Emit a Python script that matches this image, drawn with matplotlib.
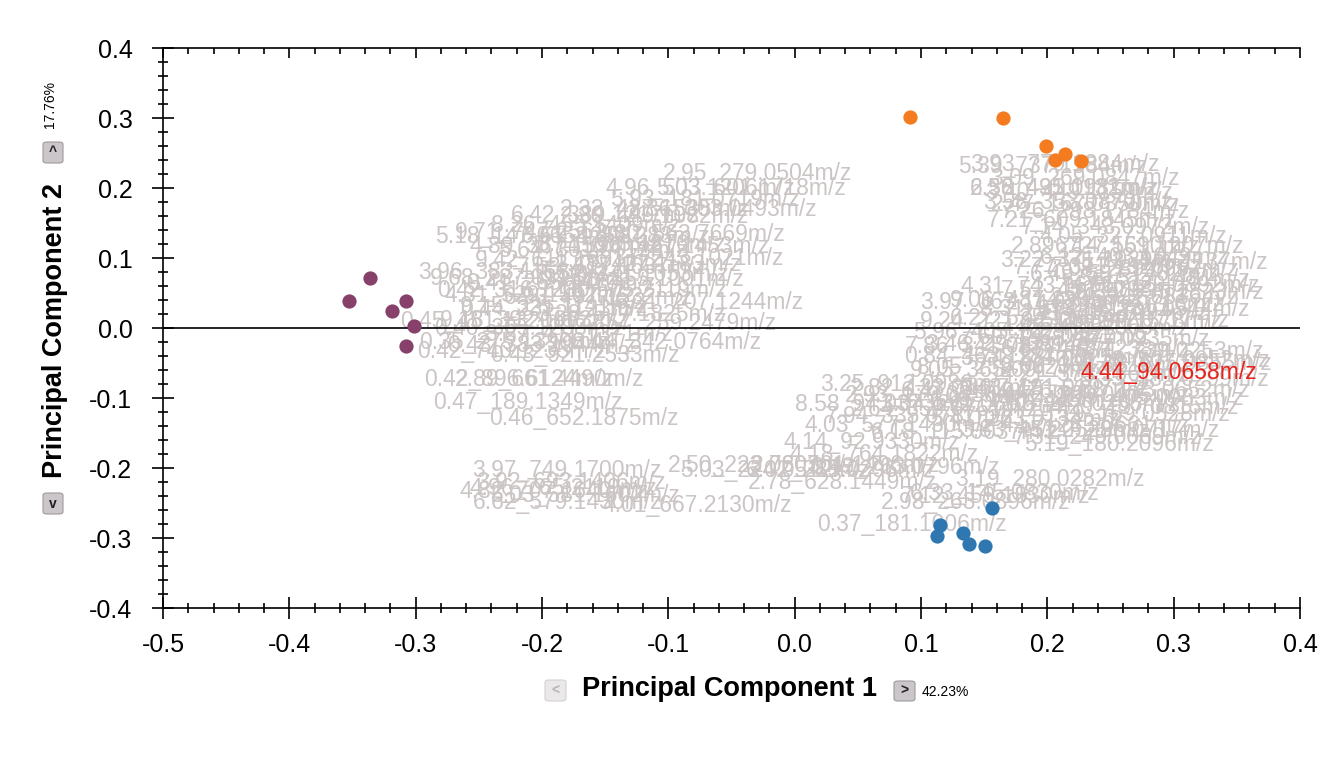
import matplotlib
matplotlib.use('Agg')
import matplotlib.pyplot as plt
from matplotlib.ticker import MultipleLocator
from matplotlib.patches import FancyBboxPatch

plt.rcParams['font.family'] = ['Liberation Sans', 'DejaVu Sans']

# scores (PC1, PC2) for the three sample groups
purple_pc1 = [-0.353, -0.336, -0.319, -0.308, -0.301, -0.308]
purple_pc2 = [0.039, 0.071, 0.024, 0.039, 0.003, -0.026]
orange_pc1 = [0.091, 0.165, 0.199, 0.206, 0.214, 0.227]
orange_pc2 = [0.301, 0.300, 0.260, 0.240, 0.249, 0.239]
blue_pc1 = [0.156, 0.115, 0.113, 0.133, 0.138, 0.151]
blue_pc2 = [-0.257, -0.281, -0.297, -0.293, -0.309, -0.311]

# loadings labels, upper left cluster
ul_names = ['2.95_279.0504m/z', '4.96_503.1206m/z', '5.03_601.1718m/z', '5.93_181.0719m/z',
            '2.32_487.1535m/z', '2.36_303.0493m/z', '2.30_449.1082m/z', '5.18_147.0658m/z',
            '9.71_747.2562m/z', '6.61_425.1283m/z', '3.80_563.7669m/z', '4.89_367.1598m/z',
            '5.77_421.1453m/z', '9.42_611.1601m/z', '6.37_243.1021m/z', '3.96_383.1153m/z',
            '9.68_287.0913m/z', '5.52_341.1053m/z', '0.42_316.1230m/z', '4.31_529.1562m/z',
            '7.18_575.2119m/z', '6.21_207.1244m/z', '9.15_325.1141m/z', '0.45_451.1320m/z',
            '9.18_392.1063m/z', '2.57_259.2479m/z', '8.44_342.0764m/z', '0.35_275.1390m/z',
            '0.42_740.1235m/z', '0.43_921.2533m/z', '0.42_896.6124m/z', '2.89_661.4490m/z',
            '0.47_189.1349m/z', '0.46_652.1875m/z', '6.42_389.1217m/z', '8.26_455.1409m/z',
            '3.71_613.1876m/z', '5.64_301.0712m/z', '2.48_427.1183m/z', '7.53_517.1637m/z',
            '0.41_265.1470m/z', '4.58_355.1001m/z', '6.93_497.1532m/z', '0.44_231.1123m/z',
            '3.28_577.1825m/z', '0.40_305.1288m/z', '8.87_411.1371m/z', '0.43_383.1944m/z']
ul_pc1 = [-0.104, -0.150, -0.110, -0.146, -0.186, -0.132, -0.186, -0.285,
          -0.269, -0.217, -0.158, -0.257, -0.170, -0.253, -0.158, -0.298,
          -0.289, -0.202, -0.283, -0.277, -0.202, -0.142, -0.265, -0.312,
          -0.281, -0.164, -0.176, -0.297, -0.299, -0.241, -0.293, -0.269,
          -0.286, -0.242, -0.225, -0.240, -0.205, -0.235, -0.190, -0.220,
          -0.260, -0.190, -0.230, -0.265, -0.205, -0.285, -0.245, -0.275]
ul_pc2 = [0.221, 0.200, 0.200, 0.183, 0.169, 0.169, 0.160, 0.130,
          0.137, 0.131, 0.133, 0.116, 0.116, 0.097, 0.100, 0.079,
          0.071, 0.076, 0.054, 0.047, 0.054, 0.037, 0.031, 0.009,
          0.011, 0.006, -0.020, -0.020, -0.034, -0.039, -0.074, -0.074,
          -0.106, -0.129, 0.161, 0.147, 0.119, 0.111, 0.090, 0.086,
          0.064, 0.069, 0.043, 0.026, 0.019, 0.000, -0.010, -0.025]

# lower left cluster
ll_names = ['3.97_749.1700m/z', '3.92_693.1406m/z', '4.96_765.2119m/z', '4.82_707.1640m/z',
            '6.62_579.1430m/z', '5.03_581.1602m/z', '4.01_667.2130m/z', '2.50_223.0607m/z',
            '5.03_224.0512m/z']
ll_pc1 = [-0.255, -0.252, -0.257, -0.265, -0.255, -0.241, -0.152, -0.100, -0.091]
ll_pc2 = [-0.203, -0.220, -0.229, -0.234, -0.249, -0.239, -0.253, -0.196, -0.203]

# lower right cluster
lr_names = ['4.14_92.9330m/z', '4.18_764.1822m/z', '5.19_180.2096m/z', '3.49_263.0796m/z',
            '2.73_301.1496m/z', '6.02_285.0296m/z', '2.78_628.1449m/z', '3.19_280.0282m/z',
            '6.33_145.0830m/z', '7.12_459.1830m/z', '2.98_263.0896m/z', '0.37_181.1006m/z',
            '3.25_912.0986m/z', '8.58_94.0373m/z', '5.19_169.0528m/z', '4.03_577.1430m/z',
            '5.22_296.0717m/z', '7.31_249.0069m/z', '7.94_335.0787m/z', '2.82_133.0143m/z',
            '6.47_217.0476m/z', '3.61_191.0197m/z', '4.72_325.0405m/z', '5.88_173.0652m/z',
            '2.19_405.0983m/z', '6.95_147.0445m/z', '3.04_211.0602m/z', '7.66_247.0255m/z',
            '4.29_197.0815m/z', '2.64_359.0761m/z', '5.41_263.0134m/z', '3.83_451.0528m/z',
            '6.18_115.0037m/z', '4.57_283.0661m/z', '2.93_179.0350m/z']
lr_pc1 = [-0.009, -0.004, 0.182, 0.012, -0.035, -0.039, -0.037, 0.127,
          0.091, 0.084, 0.068, 0.018, 0.020, 0.000, 0.194, 0.008,
          0.186, 0.173, 0.024, 0.044, 0.084, 0.131, 0.163, 0.210,
          0.206, 0.107, 0.068, 0.155, 0.202, 0.044, 0.107, 0.131,
          0.060, 0.163, 0.040]
lr_pc2 = [-0.163, -0.181, -0.167, -0.199, -0.196, -0.203, -0.221, -0.217,
          -0.236, -0.241, -0.250, -0.281, -0.081, -0.110, -0.124, -0.139,
          -0.146, -0.157, -0.127, -0.086, -0.091, -0.086, -0.096, -0.089,
          -0.100, -0.103, -0.110, -0.110, -0.114, -0.117, -0.131, -0.146,
          -0.149, -0.139, -0.097]

# upper right cluster
ur_names = ['5.39_737.1584m/z', '3.93_779.1884m/z', '2.36_435.0981m/z', '3.40_449.1159m/z',
            '3.58_353.0870m/z', '7.26_298.1784m/z', '7.21_609.1845m/z', '4.05_327.0911m/z',
            '2.89_727.1590m/z', '6.14_561.1207m/z', '6.12_403.1049m/z', '7.77_371.1326m/z',
            '7.08_289.0957m/z', '4.31_743.1672m/z', '5.56_517.1481m/z', '6.89_635.1823m/z',
            '3.97_063.1142m/z', '9.06_487.1305m/z', '4.88_301.0716m/z', '2.11_313.1094m/z',
            '9.24_221.0432m/z', '2.11_599.1578m/z', '5.96_405.1229m/z', '7.86_341.0874m/z',
            '3.46_297.0814m/z', '6.71_739.0253m/z', '0.84_463.1184m/z', '8.13_507.0652m/z',
            '8.05_259.0623m/z', '9.05_365.0917m/z', '7.38_615.0855m/z', '3.22_371.1029m/z',
            '5.73_445.1137m/z', '6.49_587.1462m/z', '4.66_329.0892m/z', '7.52_453.1298m/z',
            '2.74_391.0836m/z', '8.31_673.1717m/z', '3.15_281.0544m/z', '6.27_535.1385m/z',
            '5.08_247.0717m/z', '4.45_419.1009m/z', '7.69_197.0461m/z', '2.58_377.0935m/z',
            '6.83_463.1238m/z', '3.74_271.0625m/z', '8.92_331.0818m/z', '5.35_185.0299m/z',
            '4.21_573.1561m/z', '3.09_269.0847m/z', '6.58_491.1132m/z', '2.47_167.0350m/z',
            '7.14_343.0972m/z']
ur_pc1 = [0.129, 0.139, 0.139, 0.151, 0.149, 0.163, 0.152, 0.194,
          0.171, 0.206, 0.194, 0.173, 0.202, 0.131, 0.210, 0.222,
          0.099, 0.123, 0.190, 0.179, 0.099, 0.190, 0.094, 0.087,
          0.103, 0.222, 0.087, 0.226, 0.097, 0.091, 0.228, 0.163,
          0.226, 0.186, 0.218, 0.163, 0.202, 0.147, 0.210, 0.123,
          0.194, 0.163, 0.131, 0.179, 0.163, 0.131, 0.163, 0.225,
          0.163, 0.155, 0.139, 0.155, 0.179]
ur_pc2 = [0.230, 0.233, 0.200, 0.194, 0.180, 0.166, 0.154, 0.130,
          0.116, 0.116, 0.101, 0.087, 0.083, 0.059, 0.069, 0.050,
          0.036, 0.040, 0.033, 0.021, 0.009, 0.009, -0.006, -0.027,
          -0.024, -0.034, -0.041, -0.046, -0.056, -0.060, -0.051, 0.097,
          0.094, 0.076, 0.061, 0.054, 0.043, 0.026, 0.026, 0.014,
          0.011, -0.001, -0.014, -0.017, -0.031, -0.043, -0.053, -0.074,
          -0.067, 0.214, 0.200, 0.177, 0.143]

highlight_name = '4.44_94.0658m/z'
highlight_pc1 = 0.226
highlight_pc2 = -0.063

x_ticks = [-0.5, -0.4, -0.3, -0.2, -0.1, 0.0, 0.1, 0.2, 0.3, 0.4]
y_ticks = [-0.4, -0.3, -0.2, -0.1, 0.0, 0.1, 0.2, 0.3, 0.4]

grey = '#CCC5C5'

fig = plt.figure(figsize=(13.18, 7.58), dpi=100)
ax = fig.add_axes([163 / 1318, 1 - 608 / 758, (1300 - 163) / 1318, (608 - 48) / 758])

#labels of the loadings
for names, xs, ys in [(ul_names, ul_pc1, ul_pc2), (ll_names, ll_pc1, ll_pc2),
                      (lr_names, lr_pc1, lr_pc2), (ur_names, ur_pc1, ur_pc2)]:
    for name, x, y in zip(names, xs, ys):
        ax.text(x, y, name, color=grey, fontsize=16.5, ha='left', va='center', zorder=2)
ax.text(highlight_pc1, highlight_pc2, highlight_name, color='#E8231C', fontsize=16.5,
        ha='left', va='center', zorder=3)

#sample scores
ax.scatter(purple_pc1, purple_pc2, s=105, color='#86406A', zorder=5, linewidths=0)
ax.scatter(orange_pc1, orange_pc2, s=105, color='#F47B20', zorder=5, linewidths=0)
ax.scatter(blue_pc1, blue_pc2, s=105, color='#2E77B1', zorder=5, linewidths=0)

ax.axhline(0, color='black', lw=1.2, zorder=4)

ax.set_xlim(-0.5, 0.4)
ax.set_ylim(-0.4, 0.4)
ax.set_xticks(x_ticks)
ax.set_xticklabels(['%.1f' % v for v in x_ticks])
ax.set_yticks(y_ticks)
ax.set_yticklabels(['%.1f' % v for v in y_ticks])
ax.xaxis.set_minor_locator(MultipleLocator(0.02))
ax.yaxis.set_minor_locator(MultipleLocator(0.02))
ax.tick_params(which='major', direction='inout', length=16, width=1.2, labelsize=18,
               top=False, right=False)
ax.tick_params(which='minor', direction='inout', length=7, width=1.2, top=False, right=False)
ax.tick_params(axis='x', which='major', pad=10)
ax.tick_params(axis='y', which='major', pad=14)
ax.spines['right'].set_visible(False)
ax.spines['top'].set_visible(False)
for s in ['left', 'bottom']:
    ax.spines[s].set_linewidth(1.2)

#top axis with inward ticks
secax = ax.secondary_xaxis('top')
secax.set_xticks(x_ticks)
secax.xaxis.set_minor_locator(MultipleLocator(0.02))
secax.tick_params(which='major', direction='in', length=7, width=1.2, labeltop=False)
secax.tick_params(which='minor', direction='in', length=4, width=1.2)
secax.spines['top'].set_linewidth(1.2)

#axis titles and buttons
fig.text(729 / 1318, 1 - 689 / 758, 'Principal Component 1', fontsize=19.5, fontweight='bold',
         ha='center', va='center')
fig.text(55 / 1318, 1 - 331 / 758, 'Principal Component 2', fontsize=19.5, fontweight='bold',
         ha='center', va='center', rotation=90)
fig.text(922 / 1318, 1 - 692 / 758, '42.23%', fontsize=10, ha='left', va='center')
fig.text(50 / 1318, 1 - 104 / 758, '17.76%', fontsize=10, ha='center', va='center', rotation=90)


def button(px, py, w, h, sym, face, edge, col):
    x0 = px / 1318
    y0 = 1 - (py + h) / 758
    b = FancyBboxPatch((x0, y0), w / 1318, h / 758, boxstyle='round,pad=0,rounding_size=0.003',
                       transform=fig.transFigure, facecolor=face, edgecolor=edge, lw=0.8)
    fig.patches.append(b)
    fig.text(x0 + w / 2 / 1318, y0 + h / 2 / 758, sym, fontsize=10, fontweight='bold',
             color=col, ha='center', va='center')


button(545, 680, 21, 21, '<', '#EAE8E8', '#D4D2D2', '#B8B4B4')
button(894, 681, 21, 20, '>', '#CAC6CA', '#9E9A9E', '#202020')
button(43, 142, 20, 21, '^', '#CAC6CA', '#9E9A9E', '#202020')
button(43, 493, 20, 21, 'v', '#CAC6CA', '#9E9A9E', '#202020')

fig.savefig('out.png', dpi=100)
